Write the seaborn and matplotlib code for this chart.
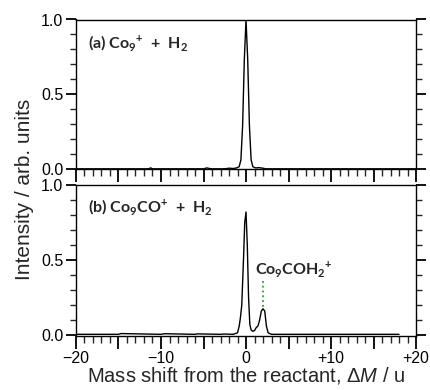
import numpy as np
import pandas as pd
import matplotlib
matplotlib.use("Agg")
import matplotlib.pyplot as plt
import seaborn as sns
from matplotlib.ticker import FixedLocator, MultipleLocator, FuncFormatter

# espectro (a): Co9+ + H2
x_a = [-20, -11.5, -11.2, -11.0, -5.0, -4.6, -4.3, -4.0, -2.5, -2.0, -1.5, -1.2,
       -1.0, -0.8, -0.6, -0.4, -0.2, 0.0, 0.2, 0.4, 0.6, 0.8, 1.0, 1.2, 1.5,
       2.0, 2.3, 20]
y_a = [0.0, 0.0, 0.006, 0.0, 0.0, 0.006, 0.002, 0.0, 0.0, 0.004, 0.002, 0.005,
       0.008, 0.015, 0.06, 0.29, 0.73, 1.0, 0.73, 0.29, 0.06, 0.015, 0.008, 0.006,
       0.008, 0.004, 0.0, 0.0]

# espectro (b): Co9CO+ + H2
x_b = [-20, -15, -14.7, -10, -9.6, -6, -5.7, -3, -2.6, -1.5, -1.0, -0.8, -0.65,
       -0.5, -0.3, -0.15, 0.0, 0.15, 0.3, 0.45, 0.6, 0.8, 1.0, 1.2, 1.4, 1.6,
       1.8, 2.0, 2.2, 2.4, 2.6, 3.0, 3.5, 18]
y_b = [0.005, 0.005, 0.01, 0.005, 0.009, 0.005, 0.008, 0.005, 0.007, 0.005,
       0.015, 0.06, 0.12, 0.2, 0.5, 0.75, 0.82, 0.6, 0.25, 0.07, 0.035, 0.025,
       0.03, 0.05, 0.06, 0.1, 0.16, 0.175, 0.16, 0.06, 0.015, 0.005, 0.005, 0.005]

xticks_major = [-20, -15, -10, -5, 0, 5, 10, 15, 20]
xticks_labeled = [-20, -10, 0, 10, 20]
yticks_major = [0.0, 0.5, 1.0]

sns.set_style("ticks")
plt.rcParams['font.family'] = ['Liberation Sans', 'DejaVu Sans']
plt.rcParams['mathtext.fontset'] = 'custom'
plt.rcParams['mathtext.rm'] = 'Liberation Sans'
plt.rcParams['mathtext.it'] = 'Liberation Sans:italic'
plt.rcParams['mathtext.bf'] = 'Lato:bold'

fig = plt.figure(figsize=(4.31, 3.90), dpi=100)
ax1 = fig.add_axes([0.1763, 0.566, 0.789, 0.384])
ax2 = fig.add_axes([0.1763, 0.1397, 0.789, 0.386])

df_a = pd.DataFrame({'x': x_a, 'y': y_a})
df_b = pd.DataFrame({'x': x_b, 'y': y_b})
sns.lineplot(data=df_a, x='x', y='y', ax=ax1, color='black', lw=1.0)
sns.lineplot(data=df_b, x='x', y='y', ax=ax2, color='black', lw=1.0)


def fmt_x(v, pos):
    v = int(round(v))
    if v not in xticks_labeled:
        return ''
    if v > 0:
        return f'+{v}'
    if v < 0:
        return f'\u2212{abs(v)}'
    return '0'


for ax in (ax1, ax2):
    ax.set_xlim(-20, 20)
    ax.set_ylim(-0.003, 1.0)
    ax.xaxis.set_major_locator(FixedLocator(xticks_major))
    ax.xaxis.set_minor_locator(MultipleLocator(1))
    ax.yaxis.set_major_locator(FixedLocator(yticks_major))
    ax.yaxis.set_minor_locator(MultipleLocator(0.1))
    ax.yaxis.set_major_formatter(FuncFormatter(lambda v, p: f'{v:.1f}'))
    ax.tick_params(which='major', direction='out', length=7, width=1.3,
                   labelsize=11.5, pad=2, right=True, colors='black')
    ax.tick_params(which='minor', direction='out', length=4, width=1.0,
                   right=True)
    ax.tick_params(axis='x', which='major', length=9, pad=2)
    ax.tick_params(axis='x', which='minor', length=5)
    for s in ax.spines.values():
        s.set_visible(True)
        s.set_linewidth(1.0)
        s.set_color('black')
    ax.set_xlabel('')
    ax.set_ylabel('')

ax1.xaxis.set_major_formatter(FuncFormatter(lambda v, p: ''))
ax2.xaxis.set_major_formatter(FuncFormatter(fmt_x))

lbl = dict(fontsize=11.5, fontweight='bold', family='Lato', va='center', ha='left')
ax1.text(0.035, 0.84, r'(a) Co$_\mathbf{9}$$^\mathbf{+}$  +  H$_\mathbf{2}$',
         transform=ax1.transAxes, **lbl)
ax2.text(0.035, 0.856, r'(b) Co$_\mathbf{9}$CO$^\mathbf{+}$  +  H$_\mathbf{2}$',
         transform=ax2.transAxes, **lbl)
ax2.text(1.05, 0.436, r'Co$_\mathbf{9}$COH$_\mathbf{2}$$^\mathbf{+}$', **lbl)
ax2.plot([2.0, 2.0], [0.36, 0.19], color='#2ca02c', ls=':', lw=1.3)

ax2.set_xlabel(r'Mass shift from the reactant, $\mathit{\Delta M}$ / u',
               fontsize=14.5, labelpad=-0.5)
fig.text(0.0557, 0.515, 'Intensity / arb. units', rotation=90, fontsize=15,
         ha='center', va='center')

fig.savefig('out.png', dpi=100)
